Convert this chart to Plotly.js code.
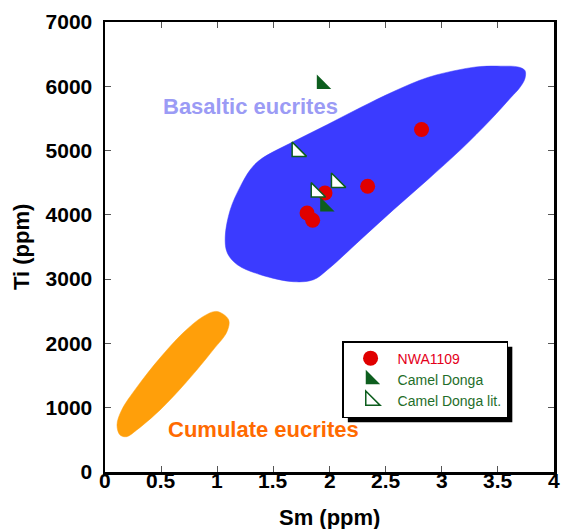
<!DOCTYPE html>
<html><head><meta charset="utf-8">
<script src="https://cdn.plot.ly/plotly-3.0.1.min.js"></script>
<style>html,body{margin:0;padding:0;background:#fff}#chart{width:562px;height:529px}</style>
</head><body><div id="chart"></div>
<script>
// Outline of the basaltic eucrite field (Sm ppm, Ti ppm)
const basalticSm = [2.875, 3.170, 3.437, 3.616, 3.696, 3.741, 3.741, 3.679, 3.527, 3.348, 3.170, 2.875, 2.571, 2.277, 1.982, 1.679, 1.384, 1.295, 1.205, 1.116, 1.071, 1.089, 1.179, 1.384, 1.679, 1.857, 1.982, 2.277, 2.571];
const basalticTi = [4548, 5016, 5483, 5826, 5981, 6121, 6246, 6301, 6313, 6308, 6262, 6137, 5919, 5670, 5405, 5140, 4860, 4704, 4439, 4081, 3660, 3411, 3224, 3069, 2960, 2991, 3146, 3614, 4081];
// Outline of the cumulate eucrite field
const cumulateSm = [0.491, 0.286, 0.149, 0.107, 0.134, 0.194, 0.283, 0.491, 0.729, 0.964, 1.087, 1.101, 0.997, 0.875, 0.696];
const cumulateTi = [1776, 1324, 966, 732, 576, 550, 654, 966, 1407, 1900, 2185, 2368, 2497, 2419, 2165];
// Samples
const nwaSm = [2.82, 2.34, 1.96, 1.80, 1.85];
const nwaTi = [5327, 4444, 4341, 4029, 3915];
const cdSm = [1.93, 1.96];
const cdTi = [6034, 4128];
const cdLitSm = [1.71, 1.88, 2.06];
const cdLitTi = [4984, 4352, 4502];
// Ticks
const xTicks = [0, 0.5, 1, 1.5, 2, 2.5, 3, 3.5, 4];
const xTickText = ['0', '0.5', '1', '1.5', '2', '2.5', '3', '3.5', '4'];
const yTicks = [0, 1000, 2000, 3000, 4000, 5000, 6000, 7000];
const yTickText = ['0', '1000', '2000', '3000', '4000', '5000', '6000', '7000'];
const seriesNames = ['NWA1109', 'Camel Donga', 'Camel Donga lit.'];

const FONT = 'Liberation Sans, Arial, Helvetica, sans-serif';
const GREEN = '#0d5e1e';

function closed(a) { return a.concat([a[0]]); }

const data = [
  {x: closed(basalticSm), y: closed(basalticTi), mode: 'lines', fill: 'toself',
   fillcolor: '#3b3bff', line: {color: '#3b3bff', width: 0.5, shape: 'spline', smoothing: 1}, showlegend: false, hoverinfo: 'skip'},
  {x: closed(cumulateSm), y: closed(cumulateTi), mode: 'lines', fill: 'toself',
   fillcolor: '#ff9f0a', line: {color: '#ff9f0a', width: 0.5, shape: 'spline', smoothing: 1}, showlegend: false, hoverinfo: 'skip'},
  {x: nwaSm, y: nwaTi, mode: 'markers', name: '<span style="color:#e4001a">' + seriesNames[0] + '</span>',
   marker: {symbol: 'circle', size: 15, color: '#e00000', line: {width: 0}}},
  {x: cdSm, y: cdTi, mode: 'markers', name: '<span style="color:#1f6e2a">' + seriesNames[1] + '</span>',
   marker: {symbol: 'triangle-sw', size: 16, color: GREEN, line: {width: 0}}},
  {x: cdLitSm, y: cdLitTi, mode: 'markers', name: '<span style="color:#1f6e2a">' + seriesNames[2] + '</span>',
   marker: {symbol: 'triangle-sw', size: 16, color: '#ffffff', line: {width: 1.5, color: GREEN}}}
];

const axisCommon = {
  showline: true, mirror: 'ticks', linecolor: '#000', linewidth: 2.5,
  ticks: 'inside', ticklen: 6, tickwidth: 1, tickcolor: '#555',
  showgrid: false, zeroline: false, fixedrange: true,
  tickfont: {family: FONT, size: 21, color: '#000', weight: 'bold'}
};

const labelFont = {family: FONT, size: 21, color: '#000', weight: 'bold'};
const annotations = [
  {x: 1.295, y: 5685, xref: 'x', yref: 'y', text: 'Basaltic eucrites', showarrow: false,
   font: {family: FONT, size: 22, color: '#9b9bf5', weight: 'bold'}},
  {x: 1.41, y: 654, xref: 'x', yref: 'y', text: 'Cumulate eucrites', showarrow: false,
   font: {family: FONT, size: 22, color: '#ff6a00', weight: 'bold'}},
  {x: -0.187, y: 0.5, xref: 'paper', yref: 'paper', text: 'Ti (ppm)', textangle: -90, showarrow: false,
   xanchor: 'center', yanchor: 'middle', font: {family: FONT, size: 22, color: '#000', weight: 'bold'}},
  {x: 0.5, y: -0.102, xref: 'paper', yref: 'paper', text: 'Sm (ppm)', showarrow: false,
   xanchor: 'center', yanchor: 'middle', font: {family: FONT, size: 22, color: '#000', weight: 'bold'}}
];
// x tick labels placed through the x scale
xTicks.forEach(function (v, i) {
  annotations.push({x: v, y: 0, xref: 'x', yref: 'paper', text: xTickText[i], showarrow: false,
    xanchor: 'center', yanchor: 'top', yshift: 5, font: labelFont});
});

const layout = {
  width: 562, height: 529,
  margin: {l: 105, r: 8, t: 22, b: 57},
  paper_bgcolor: '#fff', plot_bgcolor: '#fff',
  font: {family: FONT},
  xaxis: Object.assign({}, axisCommon, {range: [0, 4], tickvals: xTicks, showticklabels: false}),
  yaxis: Object.assign({}, axisCommon, {range: [0, 7000], tickvals: yTicks, ticktext: yTickText, ticklabelstandoff: 6}),
  legend: {x: 0.528, y: 0.291, xanchor: 'left', yanchor: 'top', bgcolor: '#fff', bordercolor: '#000', borderwidth: 1.5,
    font: {family: FONT, size: 14}, tracegroupgap: 0, itemwidth: 44},
  shapes: [],
  annotations: annotations,
  hovermode: false
};

Plotly.newPlot('chart', data, layout, {displayModeBar: false, staticPlot: true}).then(function (gd) {
  // drop shadow behind the legend box, sized from the drawn legend
  const bg = gd.querySelector('.legend .bg');
  if (!bg) return;
  const r = bg.getBoundingClientRect();
  const c = gd.getBoundingClientRect();
  const fl = gd._fullLayout;
  const px2x = function (px) { return (px - c.left - fl.margin.l) / fl._size.w; };
  const px2y = function (py) { return 1 - (py - c.top - fl.margin.t) / fl._size.h; };
  const off = 5;
  return Plotly.relayout(gd, {shapes: [{type: 'rect', xref: 'paper', yref: 'paper', layer: 'above',
    x0: px2x(r.left + off), x1: px2x(r.right + off), y0: px2y(r.bottom + off), y1: px2y(r.top + off),
    fillcolor: '#000', line: {width: 0}}]});
});
</script>
</body></html>
